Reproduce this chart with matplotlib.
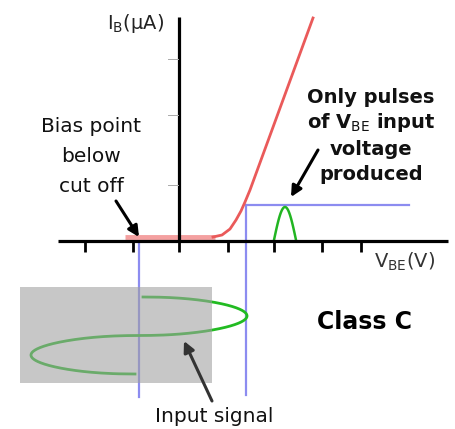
import numpy as np
import matplotlib
matplotlib.use("Agg")
import matplotlib.pyplot as plt
from matplotlib.patches import Rectangle

plt.rcParams['font.family'] = ['DejaVu Sans']
plt.rcParams['mathtext.fontset'] = 'dejavusans'

# ---- diagram data (canvas units, y grows downward) ----
xtick_pos = [85, 133, 179, 228, 274, 322, 361]
ytick_pos = [59, 115, 185]

# I_B vs V_BE characteristic
flat_x = [125, 215]
flat_y = [237, 237]
curve_x = [213, 222, 230, 236, 241, 245, 250, 313]
curve_y = [237, 235, 229, 220, 211, 202, 190, 18]

# operating window (blue)
bias_v = 139
peak_v = 246
window_top = 205
window_right = 409

# output pulse (arch)
pulse_start, pulse_end, pulse_peak = 274, 296, 207

# input signal (time runs downward)
sig_center_start, sig_center_end, sig_amp = 143, 135, 106
sig_t0, sig_t1 = 297, 374

fig = plt.figure(figsize=(4.56, 4.29), dpi=100)
ax = fig.add_axes([0, 0, 1, 1])
ax.set_xlim(0, 456)
ax.set_ylim(429, 0)
ax.axis('off')

# gray input box (semi-transparent overlay)
ax.add_patch(Rectangle((20, 287), 192, 96, facecolor='#a0a0a0', alpha=0.58,
                       edgecolor='none', zorder=4))

# axes lines
ax.plot([179, 179], [17, 241], color='black', lw=2.3, solid_capstyle='butt', zorder=3)
ax.plot([58, 448], [241, 241], color='black', lw=2.3, solid_capstyle='butt', zorder=3)
for xt in xtick_pos:
    ax.plot([xt, xt], [241, 252], color='black', lw=2.0, solid_capstyle='butt', zorder=3)
for yt in ytick_pos:
    ax.plot([168, 178], [yt, yt], color='#aaaaaa', lw=0.7, zorder=3)

# red characteristic
ax.plot(flat_x, flat_y, color='#f4a0a0', lw=3.5, solid_capstyle='butt', zorder=2)
ax.plot(curve_x, curve_y, color='#ea5a5a', lw=2.0, zorder=2)

# blue window lines
blue = '#8c8cf0'
ax.plot([bias_v, bias_v], [241, 397], color=blue, lw=1.6, zorder=1)
ax.plot([peak_v, peak_v], [395, window_top], color=blue, lw=1.6, zorder=1)
ax.plot([peak_v, window_right], [window_top, window_top], color=blue, lw=1.6, zorder=1)

# output pulse
t = np.linspace(0, np.pi, 60)
px = pulse_start + (pulse_end - pulse_start) * t / np.pi
py = 240 - (240 - pulse_peak) * np.sin(t)
ax.plot(px, py, color='#22b522', lw=1.8, zorder=2)

# input signal: one cycle, drawn as flattened loops
th = np.linspace(0, 2 * np.pi, 400)
s = np.sin(th)
frac = th / (2 * np.pi)
centers = sig_center_start + (sig_center_end - sig_center_start) * frac
xs = centers + sig_amp * np.sign(s) * np.abs(s) ** 0.45
ys = sig_t0 + (sig_t1 - sig_t0) * frac
ax.plot(xs, ys, color='#22bb22', lw=2.0, zorder=2)

# arrows
ax.annotate('', xy=(139, 237), xytext=(116, 201),
            arrowprops=dict(arrowstyle='-|>', color='black', lw=2.2, mutation_scale=16, shrinkA=0, shrinkB=0))
ax.annotate('', xy=(291, 197), xytext=(318, 150),
            arrowprops=dict(arrowstyle='-|>', color='black', lw=2.2, mutation_scale=16, shrinkA=0, shrinkB=0))
ax.annotate('', xy=(184, 341), xytext=(212, 401),
            arrowprops=dict(arrowstyle='-|>', color='#333333', lw=2.2, mutation_scale=16, shrinkA=0, shrinkB=0),
            zorder=5)

# texts
ax.text(107, 29, r'I$_\mathrm{B}$(μA)', fontsize=14, color='#222222', va='baseline', ha='left')
ax.text(374, 268, r'V$_\mathrm{BE}$(V)', fontsize=14, color='#333333', va='baseline', ha='left')

for s_, yb in zip(['Bias point', 'below', 'cut off'], [132, 162, 192]):
    ax.text(91, yb, s_, fontsize=14.5, ha='center', va='baseline', color='#111111')

for s_, yb in zip(['Only pulses', r'of V$_\mathrm{BE}$ input', 'voltage', 'produced'],
                  [103, 128, 155, 180]):
    ax.text(371, yb, s_, fontsize=14, fontweight='bold', ha='center', va='baseline', color='#111111')

ax.text(365, 329, 'Class C', fontsize=17, fontweight='bold', ha='center', va='baseline', color='black')
ax.text(214, 422, 'Input signal', fontsize=14.5, ha='center', va='baseline', color='#111111')

fig.savefig('out.png', dpi=100)
